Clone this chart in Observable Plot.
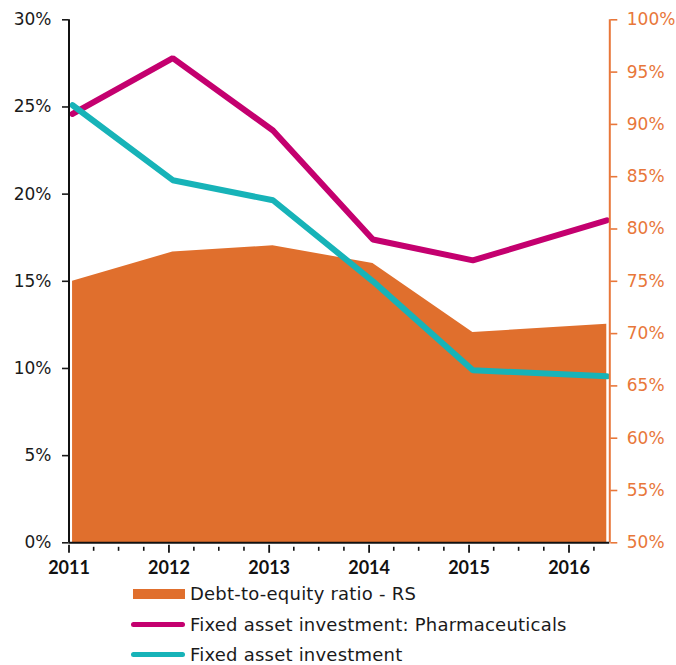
<!DOCTYPE html>
<html><head><meta charset="utf-8">
<script src="https://cdn.jsdelivr.net/npm/d3@7"></script>
<script src="https://cdn.jsdelivr.net/npm/@observablehq/plot@0.6"></script>
<style>
body{margin:0;background:#fff;font-family:"DejaVu Sans",sans-serif;}
#chart svg{display:block;}
#legend{margin-top:-11.5px;position:relative;}
.row{display:flex;align-items:center;height:30.5px;font-size:18px;letter-spacing:0.22px;color:#1a1a1a;font-family:"DejaVu Sans",sans-serif;}
.sw{margin-left:131px;width:54px;height:30.5px;position:relative;margin-right:5px;}
.sw span{position:absolute;left:0;right:0;top:50%;}
</style></head><body>
<div id="chart"></div>
<div id="legend"></div>
<script>
// Data
const dates = ["2011-01-14", "2012-01-15", "2013-01-15", "2014-01-15", "2015-01-15", "2016-05-18"];
const debtToEquity = [75.0, 77.8, 78.4, 76.7, 70.1, 70.9]; // right scale (%)
const faiPharma = [24.6, 27.8, 23.65, 17.4, 16.2, 18.5];   // left scale (%)
const faiTotal = [25.1, 20.8, 19.65, 15.0, 9.9, 9.55];     // left scale (%)

const leftTicks = [0, 5, 10, 15, 20, 25, 30];
const rightTicks = [50, 55, 60, 65, 70, 75, 80, 85, 90, 95, 100];
const yearTicks = ["2011", "2012", "2013", "2014", "2015", "2016"];

const seriesNames = ["Debt-to-equity ratio - RS", "Fixed asset investment: Pharmaceuticals", "Fixed asset investment"];
const seriesColors = ["#E06F2D", "#C4006F", "#17B3B8"];
const axisOrange = "#E8773A";

const rows = dates.map((d, i) => ({
  date: new Date(d + "T00:00:00Z"),
  de: debtToEquity[i],
  pharma: faiPharma[i],
  total: faiTotal[i]
}));

// Map right scale (50–100) to left scale (0–30)
const toLeft = v => (v - 50) * 30 / 50;

const xStart = new Date("2011-01-01T00:00:00Z");
const xEnd = new Date("2016-05-29T00:00:00Z");
const majorTicks = yearTicks.map(y => new Date(y + "-01-01T00:00:00Z"));
const minorTicks = d3.utcMonth.every(3).range(xStart, xEnd).filter(d => d.getUTCMonth() !== 0);

const plot = Plot.plot({
  width: 676,
  height: 590,
  marginLeft: 68.5,
  marginRight: 66.7,
  marginTop: 19.3,
  marginBottom: 47.7,
  style: {fontFamily: "'DejaVu Sans', sans-serif", background: "#fff"},
  x: {type: "utc", domain: [xStart, xEnd]},
  y: {domain: [0, 30]},
  marks: [
    Plot.areaY(rows, {x: "date", y: d => toLeft(d.de), fill: seriesColors[0]}),
    Plot.lineY(rows, {x: "date", y: "pharma", stroke: seriesColors[1], strokeWidth: 6, strokeLinecap: "round", strokeLinejoin: "miter"}),
    Plot.lineY(rows, {x: "date", y: "total", stroke: seriesColors[2], strokeWidth: 6, strokeLinecap: "round", strokeLinejoin: "miter"}),
    // left axis
    Plot.axisY(leftTicks, {anchor: "left", tickSize: 6.5, tickPadding: 11, tickFormat: d => d + "%", fontSize: 17, color: "#1a1a1a", strokeWidth: 1.6}),
    Plot.ruleX([xStart], {stroke: "#111", strokeWidth: 2}),
    // right axis (50–100%)
    Plot.axisY(rightTicks.map(toLeft), {anchor: "right", tickSize: 7, tickPadding: 10, tickFormat: d => Math.round(d * 50 / 30 + 50) + "%", fontSize: 17, color: axisOrange, strokeWidth: 1.6}),
    Plot.ruleX([xEnd], {stroke: axisOrange, strokeWidth: 2}),
    // bottom axis
    Plot.ruleY([0], {stroke: "#111", strokeWidth: 2}),
    Plot.axisX(minorTicks, {anchor: "bottom", tickSize: 4, insetBottom: -4.5, tickFormat: null, text: null, strokeWidth: 1.6, color: "#111"}),
    Plot.axisX(majorTicks, {anchor: "bottom", tickSize: 8, insetBottom: -2.5, tickPadding: 8, tickFormat: d3.utcFormat("%Y"), fontSize: 18, fontWeight: "bold", fontFamily: "Lato, sans-serif", strokeWidth: 1.8, color: "#111"})
  ]
});
document.getElementById("chart").appendChild(plot);

// Legend
const legend = document.getElementById("legend");
seriesNames.forEach((name, i) => {
  const row = document.createElement("div");
  row.className = "row";
  const sw = document.createElement("div");
  sw.className = "sw";
  const s = document.createElement("span");
  if (i === 0) {
    s.style.cssText = `left:1.7px;height:10px;margin-top:-5px;background:${seriesColors[i]};`;
  } else {
    s.style.cssText = `height:5px;margin-top:-2.5px;border-radius:3px;background:${seriesColors[i]};`;
  }
  sw.appendChild(s);
  row.appendChild(sw);
  const t = document.createElement("span");
  t.textContent = name;
  row.appendChild(t);
  legend.appendChild(row);
});
</script>
</body></html>
